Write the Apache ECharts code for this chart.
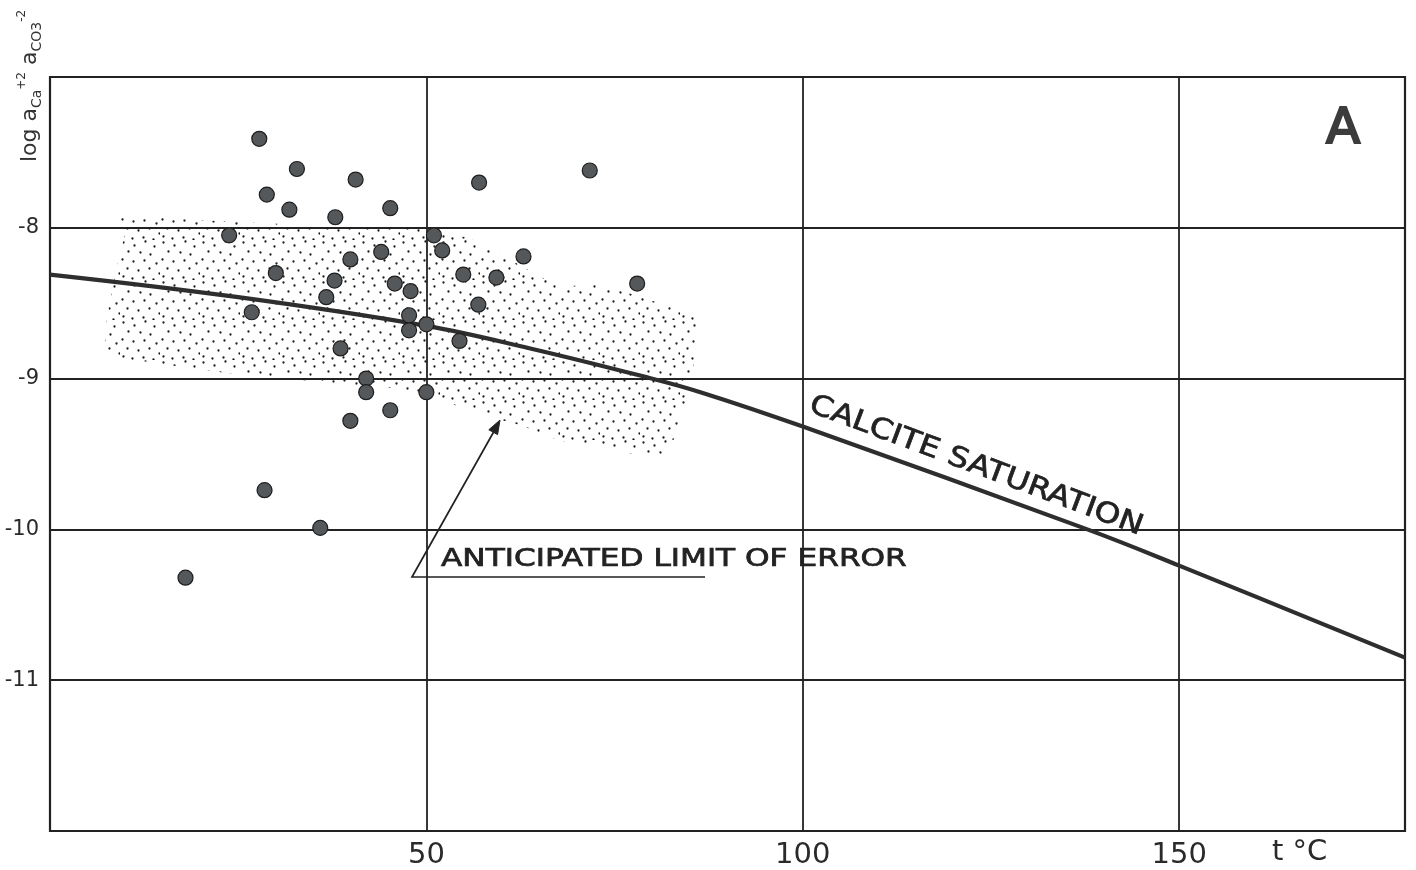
<!DOCTYPE html>
<html>
<head>
<meta charset="utf-8">
<script src="https://cdn.jsdelivr.net/npm/echarts@6/dist/echarts.min.js"></script>
<style>
html,body{margin:0;padding:0;background:#fff;}
#chart{width:1416px;height:870px;}
</style>
</head>
<body>
<div id="chart"></div>
<script>
// ---- data ----
var xTickLabels = ['50', '100', '150'];
var yTickLabels = ['-8', '-9', '-10', '-11'];

// measured samples: [temperature °C, log aCa aCO3]
var samples = [
  [27.8, -7.41], [32.8, -7.61], [28.8, -7.78], [40.6, -7.68], [31.8, -7.88],
  [37.9, -7.93], [45.2, -7.87], [57.0, -7.70], [71.7, -7.62], [23.8, -8.05],
  [51.0, -8.05], [52.1, -8.15], [44.0, -8.16], [39.9, -8.21], [62.9, -8.19],
  [30.0, -8.30], [37.8, -8.35], [54.9, -8.31], [59.3, -8.33], [45.8, -8.37],
  [47.9, -8.42], [78.0, -8.37], [36.7, -8.46], [56.9, -8.51], [26.8, -8.56],
  [47.7, -8.58], [47.7, -8.68], [50.0, -8.64], [54.4, -8.75], [38.6, -8.80],
  [42.0, -9.00], [42.0, -9.09], [45.2, -9.21], [50.0, -9.09], [39.9, -9.28],
  [28.5, -9.74], [35.9, -9.99], [18.0, -10.32]
];

// calcite saturation curve
var saturation = [
  [0, -8.31], [25, -8.46], [50, -8.65], [63.8, -8.80], [78.8, -8.985],
  [86.4, -9.09], [100, -9.318], [137.8, -10.0], [150, -10.24], [180, -10.85]
];

// stippled "anticipated limit of error" region outline
var errorRegion = [
  [9.4, -7.93], [20.0, -7.95], [33.3, -7.98], [49.2, -8.0], [56.1, -8.08],
  [62.5, -8.25], [67.8, -8.38], [73.1, -8.38], [79.7, -8.48], [85.7, -8.58],
  [86.0, -8.74], [85.1, -9.01], [83.7, -9.27], [81.7, -9.51], [78.4, -9.51],
  [73.1, -9.44], [67.8, -9.41], [62.5, -9.31], [57.2, -9.24], [51.9, -9.14],
  [46.5, -9.07], [39.9, -9.04], [33.3, -9.01], [26.6, -8.98], [20.0, -8.94],
  [13.3, -8.89], [7.8, -8.84], [7.4, -8.68], [8.0, -8.48], [9.1, -8.21], [10.0, -8.01]
];

// ---- stipple texture ----
var pat = document.createElement('canvas');
pat.width = 40; pat.height = 40;
var pc = pat.getContext('2d');
pc.fillStyle = '#1e1e1e';
var dots = [[3,2],[14,5],[25,1],[34,6],[8,11],[20,12],[30,14],[2,19],[13,21],[24,20],[36,23],
            [7,28],[18,30],[29,28],[39,33],[3,36],[12,38],[23,37],[33,39]];
dots.forEach(function(d){ pc.beginPath(); pc.arc(d[0]+0.5, d[1]+0.5, 1.15, 0, Math.PI*2); pc.fill(); });

var chart = echarts.init(document.getElementById('chart'), null, {renderer: 'canvas'});
var ink = '#222222';
var font = '"DejaVu Sans", "Liberation Sans", sans-serif';

var option = {
  backgroundColor: '#ffffff',
  animation: false,
  grid: {left: 50, right: 11, top: 77, bottom: 39, show: true, borderColor: ink, borderWidth: 2.2, backgroundColor: 'transparent'},
  xAxis: {
    type: 'value', min: 0, max: 180, interval: 50,
    axisLine: {show: false}, axisTick: {show: false},
    splitLine: {show: true, lineStyle: {color: ink, width: 1.8}},
    axisLabel: {
      margin: 10, color: '#2a2a2a', fontSize: 29, fontFamily: font,
      formatter: function(v){ var i = [50,100,150].indexOf(v); return i >= 0 ? xTickLabels[i] : ''; }
    }
  },
  yAxis: {
    type: 'value', min: -12, max: -7, interval: 1,
    axisLine: {show: false}, axisTick: {show: false},
    splitLine: {show: true, lineStyle: {color: ink, width: 1.8}},
    axisLabel: {
      margin: 11, color: '#2a2a2a', fontSize: 21, fontFamily: font, padding: [12, 0, 0, 0],
      formatter: function(v){ var i = [-8,-9,-10,-11].indexOf(Math.round(v)); return i >= 0 ? yTickLabels[i] : ''; }
    }
  },
  series: [
    {
      type: 'custom', z: 1, silent: true,
      data: [[0, 0]],
      renderItem: function(params, api){
        var pts = errorRegion.map(function(p){ return api.coord(p); });
        return {type: 'polygon', shape: {points: pts, smooth: 0.3},
          style: {fill: {image: pat, repeat: 'repeat'}, stroke: null}};
      }
    },
    {
      type: 'line', z: 3, data: saturation, smooth: 0.4, symbol: 'none',
      lineStyle: {color: '#2e2e2e', width: 4.2}
    },
    {
      type: 'scatter', z: 4, data: samples, symbol: 'circle', symbolSize: 15,
      itemStyle: {color: '#55585a', borderColor: '#1e1e1e', borderWidth: 1.2, opacity: 1}
    }
  ],
  graphic: [
    {type: 'text', left: 1325, top: 104, style: {text: 'A', font: '50px ' + font, fill: '#3c3c3c', stroke: '#3c3c3c', lineWidth: 2.2}},
    {type: 'text', x: 976, y: 466, rotation: -20.5 * Math.PI / 180, scaleX: 1.17,
     style: {text: 'CALCITE SATURATION', font: '28px ' + font, fill: '#222', stroke: '#222', lineWidth: 0.7, align: 'center', verticalAlign: 'middle'}},
    {type: 'text', x: 441, y: 560, scaleX: 1.3,
     style: {text: 'ANTICIPATED LIMIT OF ERROR', font: '24px ' + font, fill: '#222', stroke: '#222', lineWidth: 0.7, verticalAlign: 'middle'}},
    {type: 'polyline', shape: {points: [[705, 577], [412, 577], [497, 426]]}, style: {stroke: '#222', lineWidth: 1.7, fill: null}},
    {type: 'polygon', shape: {points: [[500, 420], [497.6, 434.6], [488.8, 429.8]]}, style: {fill: '#222', stroke: '#222', lineWidth: 1}},
    {type: 'text', x: 1272, y: 852, style: {text: 't °C', font: '29px ' + font, fill: '#2a2a2a', verticalAlign: 'middle'}},
    {type: 'text', x: 29, y: 86, rotation: Math.PI / 2,
     style: {
       text: '{m|log a}{s|Ca}{p|+2}{m| a}{s|CO3}{p|-2}',
       align: 'center', verticalAlign: 'middle',
       rich: {
         m: {font: '22px ' + font, fill: '#333', verticalAlign: 'bottom', lineHeight: 24},
         s: {font: '14px ' + font, fill: '#333', verticalAlign: 'bottom', padding: [0, 0, -3, 0]},
         p: {font: '12px ' + font, fill: '#333', verticalAlign: 'top', padding: [-1, 0, 0, 0]}
       }
     }}
  ]
};
chart.setOption(option);
</script>
</body>
</html>
